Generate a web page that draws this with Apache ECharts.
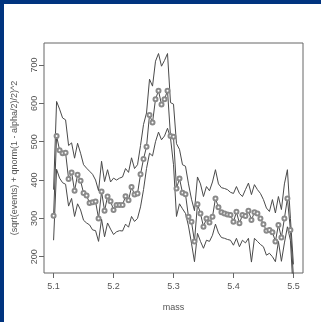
<!DOCTYPE html>
<html lang="en">
<head>
  <meta charset="UTF-8">
  <title>mass</title>
  <script src="https://cdn.jsdelivr.net/npm/echarts@6/dist/echarts.min.js"></script>
  <style>
    html, body { margin: 0; padding: 0; background: #fff; }
    #app { width: 321px; height: 322px; }
  </style>
</head>
<body>
  <div id="app"></div>
  <script>
    // mass bins (x)
    var mass = [
      5.100, 5.105, 5.110, 5.115, 5.120, 5.125, 5.130, 5.135, 5.140, 5.145,
      5.150, 5.155, 5.160, 5.165, 5.170, 5.175, 5.180, 5.185, 5.190, 5.195,
      5.200, 5.205, 5.210, 5.215, 5.220, 5.225, 5.230, 5.235, 5.240, 5.245,
      5.250, 5.255, 5.260, 5.265, 5.270, 5.275, 5.280, 5.285, 5.290, 5.295,
      5.300, 5.305, 5.310, 5.315, 5.320, 5.325, 5.330, 5.335, 5.340, 5.345,
      5.350, 5.355, 5.360, 5.365, 5.370, 5.375, 5.380, 5.385, 5.390, 5.395,
      5.400, 5.405, 5.410, 5.415, 5.420, 5.425, 5.430, 5.435, 5.440, 5.445,
      5.450, 5.455, 5.460, 5.465, 5.470, 5.475, 5.480, 5.485, 5.490, 5.495,
      5.500
    ]
    // middle curve, drawn with circles
    var middle = [
      307, 515, 478, 470, 471, 403, 420, 372, 414, 398,
      366, 360, 340, 342, 344, 300, 370, 320, 357, 345,
      322, 335, 335, 335, 358, 347, 382, 362, 365, 415,
      455, 487, 570, 550, 611, 633, 597, 611, 633, 515,
      513, 378, 404, 367, 363, 304, 291, 240, 337, 313,
      278, 300, 289, 304, 352, 329, 316, 313, 310, 309,
      291, 317, 287, 309, 306, 320, 296, 316, 313, 300,
      285, 268, 270, 264, 240, 283, 250, 300, 352, 270,
      150
    ]
    var upper = [
      375, 605, 585, 562, 557, 490, 497, 457, 496, 470,
      440, 431, 423, 415, 400, 372, 449, 396, 427, 395,
      405, 400, 405, 408, 430, 420, 458, 430, 440, 490,
      545, 575, 663, 645, 710, 730, 697, 712, 730, 602,
      598, 495, 480, 440, 436, 390, 350, 320, 408, 390,
      357, 383, 372, 395, 427, 390, 380, 378, 375, 368,
      365, 383, 365, 357, 375, 392, 362, 388, 375, 365,
      349, 327, 318, 349, 314, 357, 323, 390, 427, 300,
      180
    ]
    var lower = [
      243, 428, 405, 393, 389, 332, 352, 305, 338, 322,
      295, 288, 283, 270, 268, 240, 298, 252, 288, 272,
      258, 265, 268, 267, 285, 277, 305, 292, 300, 330,
      375, 430, 470, 463, 500, 525, 505, 515, 535, 510,
      440, 305, 338, 325, 313, 280, 235, 187, 261, 240,
      222, 243, 240, 256, 285, 262, 250, 248, 245, 243,
      230, 248, 226, 243, 236, 248, 186, 248, 240, 232,
      226, 204, 209, 200, 187, 240, 188, 236, 278, 243,
      100
    ]
    var xTicks = [5.1, 5.2, 5.3, 5.4, 5.5]
    var yTicks = [200, 300, 400, 500, 600, 700]

    function pairs(ys) {
      return mass.map(function (m, i) { return [m, ys[i]] })
    }

    var ink = '#555'
    var font = 'Liberation Sans, Arial, sans-serif'

    var mCharts = echarts.init(document.querySelector('#app'))
    var option = {
      animation: false,
      backgroundColor: '#fff',
      graphic: [
        { type: 'rect', shape: { x: 0, y: 0, width: 321, height: 4 }, style: { fill: '#00347f' } },
        { type: 'rect', shape: { x: 0, y: 0, width: 4, height: 322 }, style: { fill: '#00347f' } }
      ],
      grid: {
        left: 44, right: 18, top: 43, bottom: 49,
        show: true, borderColor: '#666', borderWidth: 1, backgroundColor: 'transparent'
      },
      xAxis: {
        type: 'value',
        min: 5.084, max: 5.516,
        name: 'mass', nameLocation: 'middle', nameGap: 30,
        nameTextStyle: { color: ink, fontSize: 9, fontFamily: font },
        axisLine: { show: false },
        axisTick: { show: true, length: 5, customValues: xTicks, lineStyle: { color: '#666' } },
        axisLabel: {
          customValues: xTicks, margin: 9, color: ink, fontSize: 9, fontFamily: font,
          formatter: function (v) { return v.toFixed(1) }
        },
        splitLine: { show: false }
      },
      yAxis: {
        type: 'value',
        min: 157.5, max: 757.5,
        name: '(sqrt(events) + qnorm(1 - alpha/2)/2)^2',
        nameLocation: 'middle', nameGap: 25,
        nameTextStyle: { color: ink, fontSize: 9, fontFamily: font },
        axisLine: { show: false },
        axisTick: { show: true, length: 5, customValues: yTicks, lineStyle: { color: '#666' } },
        axisLabel: {
          customValues: yTicks, rotate: 90, margin: 5, color: ink, fontSize: 9, fontFamily: font
        },
        splitLine: { show: false }
      },
      series: [
        {
          type: 'line', data: pairs(upper), symbol: 'none', clip: true,
          lineStyle: { color: '#4a4a4a', width: 1 }
        },
        {
          type: 'line', data: pairs(lower), symbol: 'none', clip: true,
          lineStyle: { color: '#4a4a4a', width: 1 }
        },
        {
          type: 'line', data: pairs(middle), clip: true,
          symbol: 'emptyCircle', symbolSize: 4, showAllSymbol: true,
          lineStyle: { color: '#4a4a4a', width: 1 },
          itemStyle: { color: '#8a8a8a', borderWidth: 0.6 }
        }
      ]
    }
    mCharts.setOption(option)
  </script>
</body>
</html>
